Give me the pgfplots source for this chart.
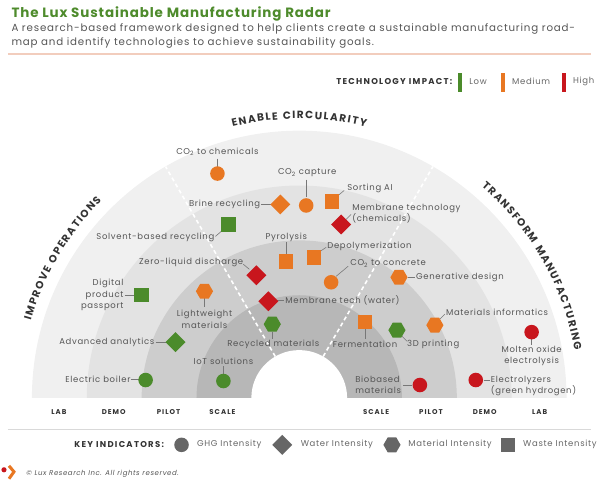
\documentclass[border=0pt]{standalone}
\usepackage{fontspec}
\setmainfont{Poppins}[LetterSpace=8]
\newfontfamily\capsfont{Poppins}[LetterSpace=15]
\newfontfamily\plaincaps{Poppins}
\usepackage{pgfplots}
\pgfplotsset{compat=1.18}
\usepackage{pgfplotstable}
\usetikzlibrary{decorations.text}

\definecolor{lowc}{HTML}{4B8B2B}
\definecolor{medc}{HTML}{E87722}
\definecolor{highc}{HTML}{C8161D}
\definecolor{titlec}{HTML}{4E8B2C}
\definecolor{txt}{HTML}{555555}
\definecolor{dark}{HTML}{333333}
\definecolor{keyg}{HTML}{666666}
\definecolor{leader}{HTML}{777777}
\definecolor{bandA}{HTML}{F0F0F0}
\definecolor{bandB}{HTML}{E3E3E3}
\definecolor{bandC}{HTML}{CDCDCD}
\definecolor{bandD}{HTML}{B7B7B7}
\definecolor{rule}{HTML}{F2CDBD}

% marker shapes, fixed sizes
\pgfdeclareplotmark{luxc}{\pgfpathcircle{\pgfpointorigin}{7.3pt}\pgfusepathqfill}
\pgfdeclareplotmark{luxs}{\pgfpathrectangle{\pgfqpoint{-7.2pt}{-7.2pt}}{\pgfqpoint{14.4pt}{14.4pt}}\pgfusepathqfill}
\pgfdeclareplotmark{luxd}{%
  \pgfpathmoveto{\pgfqpoint{0pt}{10pt}}\pgfpathlineto{\pgfqpoint{10pt}{0pt}}%
  \pgfpathlineto{\pgfqpoint{0pt}{-10pt}}\pgfpathlineto{\pgfqpoint{-10pt}{0pt}}%
  \pgfpathclose\pgfusepathqfill}
\pgfdeclareplotmark{luxh}{%
  \pgfpathmoveto{\pgfqpoint{8.6pt}{0pt}}\pgfpathlineto{\pgfqpoint{4.3pt}{7.45pt}}%
  \pgfpathlineto{\pgfqpoint{-4.3pt}{7.45pt}}\pgfpathlineto{\pgfqpoint{-8.6pt}{0pt}}%
  \pgfpathlineto{\pgfqpoint{-4.3pt}{-7.45pt}}\pgfpathlineto{\pgfqpoint{4.3pt}{-7.45pt}}%
  \pgfpathclose\pgfusepathqfill}

% technologies: position on the radar (pixels), shape + impact class
\pgfplotstableread{
x   y   cls
218 174 cM
307 206 cM
333 202 sM
342 225 dH
281 205 dM
229 225 sL
287 262 sM
315 258 sM
257 276 dH
332 283 cM
400 278 hM
142 296 sL
205 292 hM
269 302 dH
273 325 hL
366 323 sM
398 331 hL
436 326 hM
176 343 dL
224 382 cL
146 381 cL
533 333 cH
421 386 cH
477 381 cH
}\techs

\newcommand\lab{\fontsize{8.5}{11.5}\selectfont}
\newcommand\stage{\capsfont\bfseries\fontsize{7}{8}\selectfont}
\newcommand\curv{\plaincaps\bfseries\fontsize{10.5}{12}\selectfont}
\newcommand\titlestyle{\fontsize{13.5}{16}\selectfont\bfseries\addfontfeatures{LetterSpace=6.5}}
\tikzset{arctext/.style={decorate, decoration={text effects along path,
  text={#1}, text align=center,
  text effects/.cd, text along path,
  characters={text along path, font=\curv, text=dark, inner sep=0pt, anchor=base},
  character widths={text along path, font=\curv, inner ysep=0pt, inner xsep=0.72pt}}}}

\begin{document}
\begin{tikzpicture}
\begin{axis}[
  x=1pt, y=1pt,
  xmin=0, xmax=600, ymin=0, ymax=483,
  y dir=reverse,
  hide axis, clip=false,
  every node/.append style={inner sep=0pt},
]
\path (axis cs:0,0) rectangle (axis cs:600,483);

% header
\node[anchor=west, font=\titlestyle, text=titlec] at (axis cs:8,14) {The Lux Sustainable Manufacturing Radar};
\node[anchor=west, font=\fontsize{10.3}{13}\selectfont, text=txt] at (axis cs:8,29) {A research-based framework designed to help clients create a sustainable manufacturing road-};
\node[anchor=west, font=\fontsize{10.3}{13}\selectfont, text=txt] at (axis cs:8,43) {map and identify technologies to achieve sustainability goals.};
\draw[rule, line width=1.4pt] (axis cs:8,54) -- (axis cs:593,54);

% technology impact legend
\node[anchor=east, font=\capsfont\bfseries\fontsize{8.5}{10}\selectfont, text=dark] at (axis cs:457,82) {TECHNOLOGY IMPACT:};
\fill[lowc]  (axis cs:459,73) rectangle (axis cs:463,92);
\fill[medc]  (axis cs:502,73) rectangle (axis cs:506,92);
\fill[highc] (axis cs:563,73) rectangle (axis cs:567,92);
\node[anchor=west, font=\fontsize{8.5}{10}\selectfont, text=keyg] at (axis cs:467,82) {Low};
\node[anchor=west, font=\fontsize{8.5}{10}\selectfont, text=keyg] at (axis cs:510,82) {Medium};
\node[anchor=west, font=\fontsize{8.5}{10}\selectfont, text=keyg] at (axis cs:571,82) {High};

% stage bands
\fill[bandA] (axis cs:568,399) arc[start angle=0, end angle=180, radius=268pt] -- cycle;
\fill[bandB] (axis cs:513,399) arc[start angle=0, end angle=180, radius=213pt] -- cycle;
\fill[bandC] (axis cs:458,399) arc[start angle=0, end angle=180, radius=158pt] -- cycle;
\fill[bandD] (axis cs:403,399) arc[start angle=0, end angle=180, radius=103pt] -- cycle;
\fill[white] (axis cs:348,399) arc[start angle=0, end angle=180, radius=48pt] -- cycle;

% section dividers
\draw[white, line width=1.6pt, dash pattern=on 4pt off 3pt] (axis cs:276,357.4) -- (axis cs:166,167.0);
\draw[white, line width=1.6pt, dash pattern=on 4pt off 3pt] (axis cs:324,357.4) -- (axis cs:434,167.0);

% section titles along the outer arc
\path[arctext={ENABLE CIRCULARITY}]
  (axis cs:168.5,151.8) arc[start angle=118, end angle=62, radius=280pt];
\path[arctext={IMPROVE OPERATIONS}]
  (axis cs:21.1,374.6) arc[start angle=175, end angle=124, radius=280pt];
\path[arctext={TRANSFORM MANUFACTURING}]
  (axis cs:458.6,168.2) arc[start angle=55.5, end angle=3.5, radius=280pt];

% leader lines
\begin{scope}[leader, line width=0.6pt]
\draw (axis cs:218,159) -- (axis cs:218,167);
\draw (axis cs:307,180) -- (axis cs:307,198);
\draw (axis cs:339,196) -- (axis cs:345,191);
\draw (axis cs:347,220) -- (axis cs:352,215);
\draw (axis cs:262,205) -- (axis cs:272,205);
\draw (axis cs:216,237) -- (axis cs:223,231);
\draw (axis cs:287,243) -- (axis cs:287,255);
\draw (axis cs:321,252) -- (axis cs:327,248);
\draw (axis cs:244,265) -- (axis cs:250,270);
\draw (axis cs:337,277) -- (axis cs:349,267);
\draw (axis cs:409,278) -- (axis cs:416,278);
\draw (axis cs:125,296) -- (axis cs:135,296);
\draw (axis cs:205,299) -- (axis cs:205,308);
\draw (axis cs:278,301) -- (axis cs:285,301);
\draw (axis cs:273,333) -- (axis cs:273,340);
\draw (axis cs:366,330) -- (axis cs:366,340);
\draw (axis cs:403,337) -- (axis cs:408,342);
\draw (axis cs:441,320) -- (axis cs:446,315);
\draw (axis cs:156,343) -- (axis cs:166,343);
\draw (axis cs:224,367) -- (axis cs:224,375);
\draw (axis cs:131,380) -- (axis cs:139,380);
\draw (axis cs:533,340) -- (axis cs:533,346);
\draw (axis cs:404,386) -- (axis cs:413,386);
\draw (axis cs:485,381) -- (axis cs:491,381);
\end{scope}

% technologies
\addplot[scatter, only marks, scatter src=explicit symbolic,
  scatter/classes={
    cL={mark=luxc,lowc}, cM={mark=luxc,medc}, cH={mark=luxc,highc},
    dL={mark=luxd,lowc}, dM={mark=luxd,medc}, dH={mark=luxd,highc},
    hL={mark=luxh,lowc}, hM={mark=luxh,medc}, hH={mark=luxh,highc},
    sL={mark=luxs,lowc}, sM={mark=luxs,medc}, sH={mark=luxs,highc}}]
  table[x=x, y=y, meta=cls] {\techs};

% technology labels
\begin{scope}[every node/.style={font=\lab, text=txt, inner sep=0pt}]
\node at (axis cs:218,152) {CO\textsubscript{2} to chemicals};
\node at (axis cs:308,173) {CO\textsubscript{2} capture};
\node[anchor=west] at (axis cs:348,189) {Sorting AI};
\node[anchor=west, align=left] at (axis cs:353,214) {Membrane technology\\(chemicals)};
\node[anchor=east] at (axis cs:261,205) {Brine recycling};
\node[anchor=east] at (axis cs:215,238) {Solvent-based recycling};
\node at (axis cs:287,238) {Pyrolysis};
\node[anchor=west] at (axis cs:328,247) {Depolymerization};
\node[anchor=east] at (axis cs:244,263) {Zero-liquid discharge};
\node[anchor=west] at (axis cs:351,264) {CO\textsubscript{2} to concrete};
\node[anchor=west] at (axis cs:417,278) {Generative design};
\node[anchor=east, align=right] at (axis cs:124,296) {Digital\\product\\passport};
\node[align=center] at (axis cs:205,320) {Lightweight\\materials};
\node[anchor=west] at (axis cs:286,301) {Membrane tech (water)};
\node at (axis cs:274,345) {Recycled materials};
\node at (axis cs:366,345) {Fermentation};
\node[anchor=west] at (axis cs:408,345) {3D printing};
\node[anchor=west] at (axis cs:447,313) {Materials informatics};
\node[anchor=east] at (axis cs:155,343) {Advanced analytics};
\node at (axis cs:224,362) {IoT solutions};
\node[anchor=east] at (axis cs:131,380) {Electric boiler};
\node[align=center] at (axis cs:533,357) {Molten oxide\\electrolysis};
\node[anchor=west, align=left] at (axis cs:356,386) {Biobased\\materials};
\node[anchor=west, align=left] at (axis cs:492,387) {Electrolyzers\\(green hydrogen)};
\end{scope}

% stage labels
\begin{scope}[every node/.style={font=\stage, text=dark, inner sep=0pt}]
\node at (axis cs:59,413) {LAB};
\node at (axis cs:114,413) {DEMO};
\node at (axis cs:169,413) {PILOT};
\node at (axis cs:223,413) {SCALE};
\node at (axis cs:377,413) {SCALE};
\node at (axis cs:432,413) {PILOT};
\node at (axis cs:486,413) {DEMO};
\node at (axis cs:541,413) {LAB};
\end{scope}

\draw[black!15, line width=0.8pt] (axis cs:8,431) -- (axis cs:593,431);

% key indicators
\node[anchor=west, font=\capsfont\bfseries\fontsize{8.5}{10}\selectfont, text=dark] at (axis cs:71,446) {KEY INDICATORS:};
\addplot[only marks, mark=luxc, keyg] coordinates {(182,446)};
\addplot[only marks, mark=luxd, keyg] coordinates {(283,446)};
\addplot[only marks, mark=luxh, keyg] coordinates {(393,446)};
\addplot[only marks, mark=luxs, keyg] coordinates {(509,446)};
\node[anchor=west, font=\fontsize{8.5}{10}\selectfont, text=keyg] at (axis cs:194,446) {GHG Intensity};
\node[anchor=west, font=\fontsize{8.5}{10}\selectfont, text=keyg] at (axis cs:298,446) {Water Intensity};
\node[anchor=west, font=\fontsize{8.5}{10}\selectfont, text=keyg] at (axis cs:406,446) {Material Intensity};
\node[anchor=west, font=\fontsize{8.5}{10}\selectfont, text=keyg] at (axis cs:521,446) {Waste Intensity};

% footer
\fill[highc] (axis cs:4,471) circle (2.6pt);
\draw[medc, line width=3pt] (axis cs:9,467) -- (axis cs:14,473) -- (axis cs:9,480);
\node[anchor=west, font=\itshape\fontsize{7}{8}\selectfont, text=txt] at (axis cs:23,475) {\textcopyright{} Lux Research Inc. All rights reserved.};
\end{axis}
\end{tikzpicture}
\end{document}
